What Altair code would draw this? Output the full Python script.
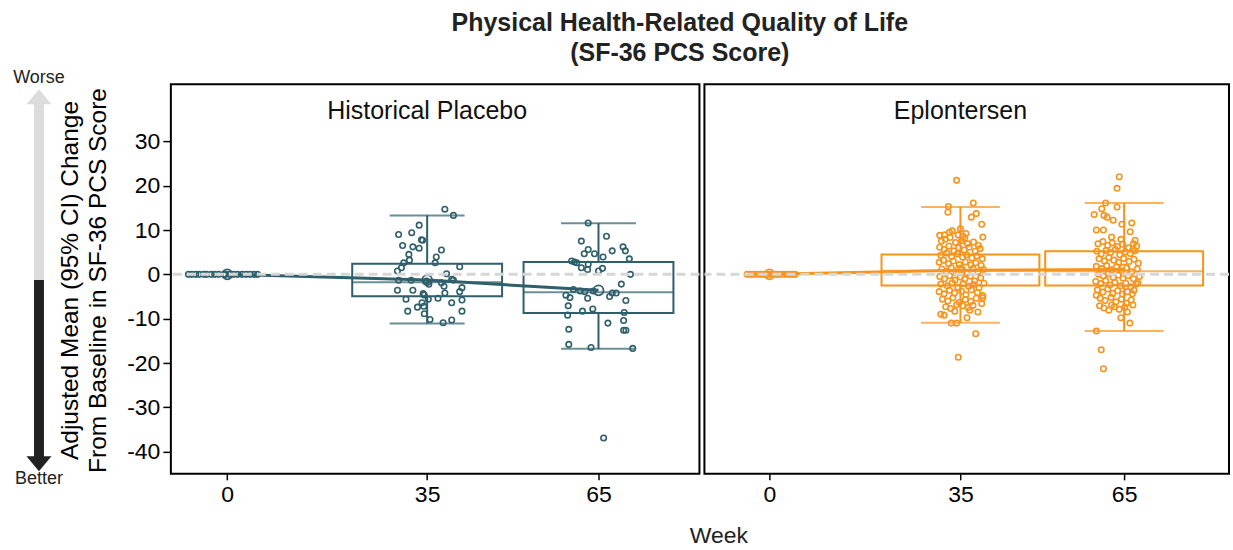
import altair as alt
import pandas as pd

TEAL = "#2e5f6b"
ORANGE = "#f7941d"
FONT = "Liberation Sans"

# ---------------- data ----------------
weeks = [0, 35, 65]
week_ticks = [0, 35, 65]
y_ticks = [-40, -30, -20, -10, 0, 10, 20, 30]

placebo_mean = [0.0, -1.3, -3.6]
eplon_mean = [0.0, 0.9, 1.1]

box_weeks = [35, 65]
placebo_lo = [-11.1, -16.8]
placebo_q1 = [-4.95, -8.7]
placebo_med = [-1.8, -4.05]
placebo_q3 = [2.4, 2.8]
placebo_hi = [13.3, 11.55]

eplon_lo = [-10.9, -12.8]
eplon_q1 = [-2.5, -2.5]
eplon_med = [0.8, 0.7]
eplon_q3 = [4.5, 5.2]
eplon_hi = [15.2, 16.1]

# individual patients: (jitter offset in weeks, change from baseline)
placebo_w0 = [-6.8, -6.2, -5.5, -4.9, -4.1, -3.6, -2.8, -2.2, -1.5, -0.6, -0.3, 0.4,
              1.1, 1.8, 2.6, 3.3, 4.0, 4.7, 5.3]
placebo_w35 = [(3.1, 14.7), (4.6, 13.3), (-1.4, 11.1), (-5.0, 9.0), (-2.7, 9.4), (-0.8, 7.7),
               (-1.0, 7.8), (-4.3, 6.5), (-2.5, 6.2), (-1.4, 5.9), (2.5, 5.5), (-3.2, 4.5),
               (1.6, 3.9), (-3.1, 3.2), (-4.1, 2.6), (1.4, 2.6), (5.7, 1.7), (-4.5, 1.5),
               (-5.2, 0.75), (3.4, 0.15), (-5.0, -1.35), (-2.8, -1.35), (-0.1, -1.5),
               (4.6, -1.3), (2.5, -1.9), (0.3, -2.25), (-5.2, -3.6), (-2.5, -3.6), (-0.7, -4.35),
               (-0.5, -4.65), (2.95, -2.7), (3.1, -4.2), (5.7, -3.9), (6.1, -3.0), (-3.7, -5.6),
               (0.2, -5.6), (1.9, -5.4), (6.1, -5.8), (4.3, -6.4), (-1.7, -7.4), (-0.6, -7.2),
               (-3.4, -8.3), (-0.5, -8.9), (6.1, -8.3), (0.5, -10.2), (2.8, -10.9), (4.3, -10.3),
               (-0.9, -6.4), (4.3, -1.1)]
placebo_w65 = [(-1.8, 11.6), (1.4, 8.6), (-3.0, 7.5), (-1.8, 5.6), (-2.5, 4.65), (-0.7, 4.65),
               (2.4, 5.3), (4.3, 6.2), (4.7, 5.3), (0.8, 3.9), (5.4, 3.5), (-4.7, 3.0),
               (-4.2, 2.8), (-3.8, 2.6), (-1.8, 2.25), (-3.0, 1.5), (-1.9, 1.1), (0.7, 1.35),
               (0.0, 0.75), (5.6, 0.0), (4.0, -2.2), (-2.4, -3.9), (-0.9, -3.75), (2.4, -4.2),
               (3.1, -4.2), (-5.7, -4.7), (-5.0, -5.25), (-1.9, -5.4), (1.95, -5.0), (4.8, -5.9),
               (-5.3, -7.1), (-1.0, -7.8), (-2.8, -8.3), (4.5, -8.6), (-5.4, -9.2), (1.65, -11.0),
               (4.4, -10.4), (-5.2, -12.4), (4.4, -12.6), (4.8, -12.6), (-5.2, -15.8),
               (-1.3, -16.5), (6.0, -16.7), (0.9, -36.9), (-4.4, -3.4), (-3.2, -3.75)]

eplon_w0 = [-4.1, -3.5, -2.9, -2.2, -1.6, -1.0, -0.5, 0.2, 0.7, 1.3, 1.9, 2.6, 3.2, 3.8, 4.3, 4.7]
eplon_w35 = [(-0.7, 21.2), (-2.2, 15.3), (2.35, 16.1), (-2.3, 14.0), (2.0, 12.9), (2.9, 13.7),
             (3.9, 11.3), (-1.5, 9.8), (4.1, 8.4), (-3.8, 8.8), (-2.9, 8.9), (0.5, 8.6), (0.8, 8.1),
             (-3.0, -9.2), (1.2, -9.8), (-1.7, -11.0), (-0.7, -11.0), (2.8, -13.4), (-0.4, -18.7),
             (-3.6, -9.0), (3.2, -8.5), (1.7, -8.1), (-1.05, -8.3), (-0.7, -6.8), (4.1, -5.3),
             (-3.5, 7.5), (-2.8, 7.9), (-1.9, 8.3), (-0.9, 7.2), (0.2, 7.6), (1.3, 6.9), (2.4, 7.3),
             (3.3, 6.5), (-3.8, 6.1), (-3.0, 5.6), (-2.1, 6.4), (-1.2, 5.3), (-0.3, 6.0), (0.7, 5.5),
             (1.6, 6.1), (2.7, 5.2), (3.6, 5.8), (-3.6, 4.3), (-2.5, 4.8), (-1.6, 4.0), (-0.6, 4.6),
             (0.4, 3.9), (1.1, 4.4), (2.1, 3.7), (3.0, 4.2), (4.0, 3.5), (-3.9, 2.7), (-3.1, 3.2),
             (-2.2, 2.4), (-1.3, 3.0), (-0.2, 2.2), (0.9, 2.8), (1.9, 2.1), (2.8, 2.6), (3.8, 2.0),
             (-3.4, 1.2), (-2.6, 0.7), (-1.7, 1.5), (-0.8, 0.4), (0.1, 1.0), (1.2, 0.3), (2.3, 1.3),
             (3.2, 0.6), (4.2, 1.1), (-3.8, -0.5), (-2.9, -1.0), (-2.0, -0.3), (-1.0, -1.3),
             (0.0, -0.6), (0.8, -1.1), (1.8, -0.4), (2.6, -1.5), (3.7, -0.8), (-3.6, -2.2),
             (-2.4, -2.6), (-1.5, -1.9), (-0.5, -2.9), (0.5, -2.1), (1.5, -2.7), (2.4, -2.3),
             (3.4, -3.0), (4.3, -2.0), (-3.9, -3.9), (-3.0, -4.4), (-2.0, -3.6), (-1.1, -4.2),
             (0.2, -3.8), (1.0, -4.6), (2.0, -3.5), (3.1, -4.1), (4.1, -4.8), (-3.3, -5.6),
             (-2.3, -6.0), (-1.4, -5.3), (-0.2, -6.3), (0.9, -5.7), (1.9, -6.1), (2.9, -5.4),
             (3.9, -6.6), (-2.7, -7.3), (-1.8, -7.7), (0.4, -7.1), (1.4, -7.5), (2.3, -7.0),
             (-2.0, 9.5), (0.0, 10.3), (1.0, 9.2), (-0.4, 8.9)]
eplon_w65 = [(-0.9, 22.0), (-1.3, 19.4), (-3.4, 16.1), (-1.3, 15.2), (-4.1, 14.8), (-5.5, 13.5),
             (-3.7, 13.3), (-3.1, 12.9), (-2.0, 12.2), (-0.4, 11.3), (1.4, 11.6), (-5.1, 10.0),
             (-3.8, 10.0), (1.1, 9.6), (-2.3, 8.4), (-0.6, 7.9), (2.0, 7.7), (1.7, 6.9),
             (-5.1, -12.8), (1.05, -11.0), (-4.2, -17.0), (-3.8, -21.3), (-0.6, -9.8), (-4.5, -7.1),
             (0.6, -8.5), (-2.8, -8.1), (-2.3, -6.9), (-5.1, -4.7), (2.5, -1.9), (1.8, -3.6),
             (-4.8, 6.9), (-3.9, 7.4), (-3.0, 6.5), (-2.2, 7.1), (-1.2, 6.3), (-0.3, 6.8), (0.8, 6.0),
             (1.6, 5.6), (2.3, 6.4), (-5.0, 5.2), (-4.2, 4.6), (-3.3, 5.4), (-2.5, 4.9), (-1.6, 5.6),
             (-0.8, 4.4), (0.2, 5.1), (1.1, 4.7), (2.0, 5.3), (-4.6, 3.5), (-3.6, 3.0), (-2.8, 3.8),
             (-1.9, 3.2), (-1.0, 2.7), (-0.1, 3.6), (0.9, 2.9), (1.8, 3.4), (2.6, 2.5), (-5.1, 1.8),
             (-4.1, 1.3), (-3.2, 2.0), (-2.3, 1.0), (-1.4, 1.7), (-0.5, 0.8), (0.5, 1.5), (1.4, 0.6),
             (2.4, 1.2), (-4.7, 0.0), (-3.8, -0.4), (-2.9, 0.2), (-2.0, -0.7), (-1.1, -0.2),
             (-0.2, -0.9), (0.7, -0.3), (1.7, -1.0), (2.8, -0.5), (-5.2, -1.6), (-4.3, -2.1),
             (-3.4, -1.4), (-2.6, -2.4), (-1.7, -1.8), (-0.7, -2.6), (0.3, -2.0), (1.2, -2.8),
             (2.2, -2.2), (-4.9, -3.5), (-3.9, -4.0), (-3.0, -3.3), (-2.1, -4.3), (-1.2, -3.7),
             (-0.3, -4.5), (0.6, -3.9), (1.5, -4.4), (-4.4, -5.4), (-3.5, -5.9), (-2.4, -5.2),
             (-1.5, -6.2), (-0.5, -5.6), (0.4, -6.5), (1.3, -5.8), (-3.7, -7.6), (-1.8, -7.3),
             (-0.9, -7.9), (0.1, -7.4), (1.6, -6.9)]

panel_names = ["Historical Placebo", "Eplontersen"]
main_title = ["Physical Health-Related Quality of Life", "(SF-36 PCS Score)"]
y_title = ["Adjusted Mean (95% CI) Change", "From Baseline in SF-36 PCS Score"]
x_title = "Week"

Y_DOMAIN = [-45, 42.9]


def points_df(w0, w35, w65):
    rows = [{"x": 0 + d, "y": 0.0} for d in w0]
    rows += [{"x": 35 + d, "y": v} for d, v in w35]
    rows += [{"x": 65 + d, "y": v} for d, v in w65]
    return pd.DataFrame(rows)


def box_df(lo, q1, med, q3, hi):
    return pd.DataFrame({"x": box_weeks, "lo": lo, "q1": q1, "med": med, "q3": q3, "hi": hi})


def panel(name, color, pts, boxes, means, xdom, box_w, cap_w, width, show_y):
    xscale = alt.Scale(domain=xdom, nice=False, zero=False)
    yscale = alt.Scale(domain=Y_DOMAIN, nice=False, zero=False)
    xaxis = alt.Axis(values=week_ticks, title=None, grid=False, domain=False,
                     labelFontSize=23, labelFont=FONT, labelColor="black",
                     tickSize=6, tickWidth=1.5, tickColor="black", labelPadding=4)
    if show_y:
        yaxis = alt.Axis(values=y_ticks, title=y_title, grid=False, domain=False,
                         labelExpr="'' + datum.value",
                         labelFontSize=23, labelFont=FONT, labelColor="black",
                         tickSize=8, tickWidth=1.5, tickColor="black", labelPadding=3,
                         titleFont=FONT, titleFontSize=24.5, titleFontWeight="normal",
                         titleColor="black", titleX=-93, titleY=196,
                         titleBaseline="alphabetic", titleLineHeight=28, titleAngle=270)
    else:
        yaxis = None

    def X(f):
        return alt.X(f"{f}:Q", scale=xscale, axis=xaxis)

    def Y(f):
        return alt.Y(f"{f}:Q", scale=yscale, axis=yaxis)

    bx = alt.Chart(boxes)
    layers = [
        bx.mark_bar(size=box_w, fill="white", fillOpacity=0, stroke=color, strokeWidth=2)
          .encode(x=X("x"), y=Y("q1"), y2="q3"),
        bx.mark_rule(color=color, strokeWidth=2).encode(x=X("x"), y=Y("q3"), y2="hi"),
        bx.mark_rule(color=color, strokeWidth=2).encode(x=X("x"), y=Y("lo"), y2="q1"),
        bx.mark_tick(orient="horizontal", size=cap_w, thickness=2, color=color)
          .encode(x=X("x"), y=Y("hi")),
        bx.mark_tick(orient="horizontal", size=cap_w, thickness=2, color=color)
          .encode(x=X("x"), y=Y("lo")),
        bx.mark_tick(orient="horizontal", size=box_w, thickness=2, color=color)
          .encode(x=X("x"), y=Y("med")),
        alt.Chart(pts).mark_point(shape="circle", size=30, filled=False, strokeWidth=1.6,
                                  color=color, opacity=1)
          .encode(x=X("x"), y=Y("y")),
        alt.Chart(means).mark_line(color=color, strokeWidth=3)
          .encode(x=X("x"), y=Y("y")),
        alt.Chart(means).mark_point(shape="circle", size=100, filled=False, strokeWidth=1.8,
                                    color=color, opacity=1)
          .encode(x=X("x"), y=Y("y")),
        alt.Chart(pd.DataFrame({"y": [0]})).mark_rule(color="#d6d6d6", strokeWidth=3,
                                                      strokeDash=[9, 5])
          .encode(y=Y("y")),
        alt.Chart(pd.DataFrame({"x": [35], "y": [35], "t": [name]}))
          .mark_text(font=FONT, fontSize=25, color="#111", baseline="alphabetic", align="center")
          .encode(x=X("x"), y=Y("y"), text="t:N"),
    ]
    return alt.layer(*layers).properties(width=width, height=390)


left = panel(panel_names[0], TEAL,
             points_df(placebo_w0, placebo_w35, placebo_w65),
             box_df(placebo_lo, placebo_q1, placebo_med, placebo_q3, placebo_hi),
             pd.DataFrame({"x": weeks, "y": placebo_mean}),
             [-9.0, 81.8], 150, 75, 529, True)

right = panel(panel_names[1], ORANGE,
              points_df(eplon_w0, eplon_w35, eplon_w65),
              box_df(eplon_lo, eplon_q1, eplon_med, eplon_q3, eplon_hi),
              pd.DataFrame({"x": weeks, "y": eplon_mean}),
              [-11.0, 83.3], 158, 79, 525, False)

# "Worse / Better" direction arrow beside the y axis (left panel)
ax = -132
arrow = [
    alt.Chart(pd.DataFrame({"a": [0]})).mark_rule(color="#dcdcdc", strokeWidth=10)
      .encode(x=alt.value(ax), y=alt.value(18), y2=alt.value(196)),
    alt.Chart(pd.DataFrame({"a": [0]})).mark_rule(color="#222222", strokeWidth=10)
      .encode(x=alt.value(ax), y=alt.value(196), y2=alt.value(375)),
    alt.Chart(pd.DataFrame({"a": [0]})).mark_point(shape="M0,-0.6L1,0.6L-1,0.6Z", size=625,
                                                   filled=True, color="#dcdcdc", opacity=1)
      .encode(x=alt.value(ax), y=alt.value(12.5)),
    alt.Chart(pd.DataFrame({"a": [0]})).mark_point(shape="M0,0.6L1,-0.6L-1,-0.6Z", size=625,
                                                   filled=True, color="#222222", opacity=1)
      .encode(x=alt.value(ax), y=alt.value(380)),
    alt.Chart(pd.DataFrame({"t": ["Worse"]})).mark_text(font=FONT, fontSize=18, color="#222",
                                                        align="center", baseline="alphabetic")
      .encode(x=alt.value(ax), y=alt.value(-1), text="t:N"),
    alt.Chart(pd.DataFrame({"t": ["Better"]})).mark_text(font=FONT, fontSize=18, color="#222",
                                                         align="center", baseline="alphabetic")
      .encode(x=alt.value(ax), y=alt.value(400), text="t:N"),
]
left = alt.layer(left, *arrow)

week_label = alt.Chart(pd.DataFrame({"t": [x_title]})).mark_text(
    font=FONT, fontSize=23, color="#222", align="center", baseline="alphabetic"
).encode(x=alt.value(14.5), y=alt.value(459), text="t:N")
right = alt.layer(right, week_label)

chart = alt.hconcat(left, right, spacing=5, bounds="flush").properties(
    title=alt.TitleParams(main_title, font=FONT, fontSize=25, fontWeight="bold", color="#222",
                          anchor="middle", frame="bounds", lineHeight=30, offset=2, dx=58),
    padding={"left": 12, "top": 11, "right": 1, "bottom": 0},
).configure_view(stroke="black", strokeWidth=2).configure_axis(grid=False)

chart.save("out.html", embed_options={"renderer": "svg", "actions": False})
